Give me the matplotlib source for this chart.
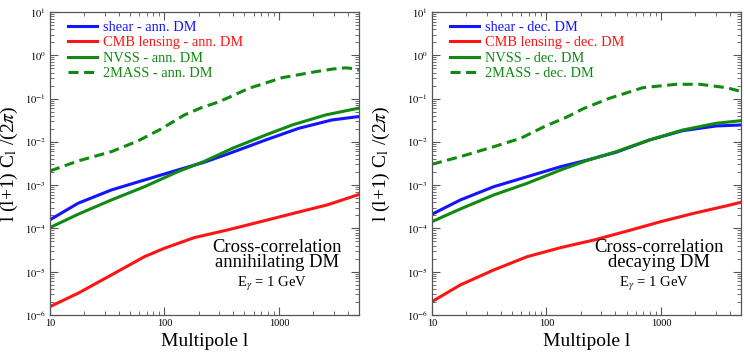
import matplotlib
matplotlib.use("Agg")
import matplotlib.pyplot as plt
import numpy as np
from matplotlib.ticker import LogLocator, NullFormatter, FixedLocator, FixedFormatter

plt.rcParams['font.family'] = ['Liberation Serif', 'DejaVu Serif']
plt.rcParams['mathtext.fontset'] = 'stix'

# Values are log10 of l(l+1)C_l/(2pi).
# ---- left panel: annihilating DM ----
ann_2mass_l = [10, 17.6, 34.4, 58.6, 93.5, 149, 208, 301, 548, 1069, 2084, 3000, 3800, 4400, 5000]
ann_2mass_log = [-2.672, -2.441, -2.226, -1.979, -1.702, -1.379, -1.215, -1.072, -0.762,
                 -0.517, -0.379, -0.315, -0.290, -0.305, -0.345]
ann_shear_l = [10, 17.6, 34.4, 67, 131, 223, 393, 766, 1493, 2900, 5000]
ann_shear_log = [-3.80, -3.418, -3.111, -2.880, -2.649, -2.470, -2.240, -1.956, -1.686,
                 -1.494, -1.415]
ann_nvss_l = [10, 17.6, 34.4, 67, 131, 223, 393, 766, 1306, 2546, 5000]
ann_nvss_log = [-3.98, -3.672, -3.342, -3.035, -2.688, -2.450, -2.148, -1.841, -1.610,
                -1.379, -1.220]
ann_cmb_l = [10, 17.6, 34.4, 67, 100, 182, 356, 693, 1349, 2633, 5000]
ann_cmb_log = [-5.806, -5.497, -5.074, -4.651, -4.457, -4.212, -4.035, -3.843, -3.649,
               -3.457, -3.215]

# ---- right panel: decaying DM ----
dec_2mass_l = [10, 17.7, 34.7, 59.6, 95.5, 153, 210, 355, 695, 1361, 2181, 3736, 5000]
dec_2mass_log = [-2.517, -2.342, -2.111, -1.917, -1.649, -1.418, -1.232, -0.993, -0.748,
                 -0.670, -0.670, -0.748, -0.835]
dec_shear_l = [10, 17.7, 34.7, 68, 133, 220, 406, 794, 1552, 3035, 5000]
dec_shear_log = [-3.672, -3.342, -3.035, -2.804, -2.573, -2.430, -2.240, -1.956, -1.741,
                 -1.633, -1.610]
dec_nvss_l = [10, 17.7, 34.7, 68, 133, 220, 406, 794, 1552, 3035, 5000]
dec_nvss_log = [-3.843, -3.550, -3.226, -2.956, -2.649, -2.440, -2.226, -1.956, -1.725,
                -1.571, -1.510]
dec_cmb_l = [10, 17.7, 34.7, 68, 133, 261, 510, 996, 1946, 3800, 5000]
dec_cmb_log = [-5.69, -5.305, -4.958, -4.651, -4.443, -4.266, -4.058, -3.843, -3.649,
               -3.473, -3.395]

x_ticks = [10, 100, 1000]
x_tick_labels = ['10', '100', '1000']
y_ticks = [1e-6, 1e-5, 1e-4, 1e-3, 1e-2, 1e-1, 1e0, 1e1]
y_tick_labels = [r'$10^{-6}$', r'$10^{-5}$', r'$10^{-4}$', r'$10^{-3}$',
                 r'$10^{-2}$', r'$10^{-1}$', r'$10^{0}$', r'$10^{1}$']

blue = '#1414ff'
red = '#ff1414'
green = '#108a10'

fig = plt.figure(figsize=(7.44, 3.53), dpi=100)
ax1 = fig.add_axes([0.0672, 0.1076, 0.4153, 0.8584])
ax2 = fig.add_axes([0.5806, 0.1076, 0.4154, 0.8584])

panels = [
    (ax1, 'ann. DM', ann_shear_l, ann_shear_log, ann_cmb_l, ann_cmb_log, ann_nvss_l,
     ann_nvss_log, ann_2mass_l, ann_2mass_log, 'Cross-correlation\nannihilating DM', -0.097),
    (ax2, 'dec. DM', dec_shear_l, dec_shear_log, dec_cmb_l, dec_cmb_log, dec_nvss_l,
     dec_nvss_log, dec_2mass_l, dec_2mass_log, 'Cross-correlation\ndecaying DM', -0.129),
]

for (ax, tag, sl, sv, cl, cv, nl, nv, ml, mv, title, ylx) in panels:
    ax.plot(sl, 10.0 ** np.array(sv), color=blue, lw=2.2, label='shear - ' + tag)
    ax.plot(cl, 10.0 ** np.array(cv), color=red, lw=2.2, label='CMB lensing - ' + tag)
    ax.plot(nl, 10.0 ** np.array(nv), color=green, lw=2.2, label='NVSS - ' + tag)
    ax.plot(ml, 10.0 ** np.array(mv), color=green, lw=2.2, ls=(0, (3.3, 1.8)),
            label='2MASS - ' + tag)
    ax.set_xscale('log')
    ax.set_yscale('log')
    ax.set_xlim(10, 5000)
    ax.set_ylim(1e-6, 10)
    ax.xaxis.set_major_locator(FixedLocator(x_ticks))
    ax.xaxis.set_major_formatter(FixedFormatter(x_tick_labels))
    ax.xaxis.set_minor_locator(LogLocator(base=10, subs=range(2, 10), numticks=20))
    ax.xaxis.set_minor_formatter(NullFormatter())
    ax.yaxis.set_major_locator(FixedLocator(y_ticks))
    ax.yaxis.set_major_formatter(FixedFormatter(y_tick_labels))
    ax.yaxis.set_minor_locator(LogLocator(base=10, subs=range(2, 10), numticks=20))
    ax.yaxis.set_minor_formatter(NullFormatter())
    ax.tick_params(which='both', direction='in', top=True, right=True, labelsize=7.5,
                   color='#555555', pad=3)
    ax.tick_params(which='major', length=6, width=0.8)
    ax.tick_params(which='minor', length=3, width=0.6)
    for sp in ax.spines.values():
        sp.set_color('#555555')
        sp.set_linewidth(0.9)
    leg = ax.legend(loc='upper left', bbox_to_anchor=(0.058, 0.972), frameon=False,
                    fontsize=10.4, handlelength=2.0, handletextpad=0.4,
                    labelspacing=0.17, borderaxespad=0.0, borderpad=0.0)
    for txt, line in zip(leg.get_texts(), leg.get_lines()):
        txt.set_color(line.get_color())
    ax.set_xlabel('Multipole l', fontsize=14)
    ax.xaxis.set_label_coords(0.5, -0.058)
    ax.set_ylabel(r'l (l+1) C$_{\rm l}$ /(2$\pi$)', fontsize=14)
    ax.yaxis.set_label_coords(ylx, 0.5)
    ax.text(0.734, 0.198, title, transform=ax.transAxes, ha='center', va='center',
            fontsize=13.4, linespacing=0.9)
    ax.text(0.717, 0.101, r'E$_\gamma$ = 1 GeV', transform=ax.transAxes, ha='center',
            va='center', fontsize=10.5)

fig.savefig('out.png', dpi=100)
